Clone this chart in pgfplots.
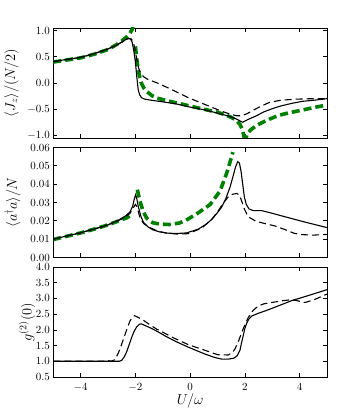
\documentclass[border=0pt]{standalone}
\usepackage{pgfplots}
\pgfplotsset{compat=1.18}
\usepgfplotslibrary{groupplots}
\definecolor{mplgreen}{rgb}{0,0.5,0}
\begin{document}
\begin{tikzpicture}
\begin{groupplot}[
  group style={group size=1 by 3, vertical sep=9.5pt, xticklabels at=edge bottom},
  width=273.7pt, height=110pt, scale only axis,
  xmin=-5, xmax=5,
  xtick={-4,-2,0,2,4},
  tick align=inside,
  major tick length=4pt,
  axis line style={line width=0.9pt},
  every tick/.style={black, line width=0.7pt},
  tick label style={font=\fontsize{10.5}{12}\selectfont},
  label style={font=\fontsize{14}{16}\selectfont},
  solid line/.style={black, line width=1.1pt},
  dash line/.style={black, line width=1.1pt, dash pattern=on 7pt off 4pt},
  green line/.style={mplgreen, line width=3.6pt, dash pattern=on 8pt off 4pt},
]
% ---- panel 1: <J_z>/(N/2)
\nextgroupplot[
  ymin=-1.05, ymax=1.05,
  ytick={-1,-0.5,0,0.5,1},
  yticklabel style={/pgf/number format/.cd, fixed, fixed zerofill, precision=1},
  ylabel={$\langle J_z\rangle/(N/2)$},
  ylabel style={at={(axis description cs:-0.153,0.5)}, anchor=center},
]
\addplot[green line] coordinates {
(-5,0.40) (-4.5,0.44) (-4,0.48) (-3.5,0.55) (-3,0.64) (-2.7,0.73) (-2.5,0.80)
(-2.3,0.89) (-2.2,0.95) (-2.12,1.02) (-2.08,1.10)};
\addplot[green line] coordinates {
(-2.0,0.70) (-1.95,0.45) (-1.88,0.20) (-1.8,0.02) (-1.7,-0.09) (-1.59,-0.16)
(-1.4,-0.24) (-1.2,-0.29) (-0.98,-0.32) (-0.5,-0.38) (0,-0.44) (0.5,-0.50)
(1.0,-0.56) (1.3,-0.61) (1.52,-0.66) (1.7,-0.72) (1.82,-0.79) (1.9,-0.88)
(1.96,-1.0) (2.0,-1.15)};
\addplot[green line] coordinates {
(2.02,-1.15) (2.07,-0.99) (2.2,-0.90) (2.4,-0.82) (2.61,-0.76) (2.9,-0.69)
(3.22,-0.62) (3.6,-0.57) (4.07,-0.52) (4.5,-0.47) (5,-0.42)};
\addplot[dash line] coordinates {
(-5,0.41) (-4.5,0.45) (-4,0.49) (-3.5,0.56) (-3,0.65) (-2.7,0.72) (-2.5,0.78)
(-2.35,0.83) (-2.25,0.85) (-2.15,0.84) (-2.08,0.78) (-2.02,0.66) (-1.95,0.45)
(-1.88,0.28) (-1.8,0.18) (-1.7,0.12) (-1.55,0.07) (-1.2,0.00) (-0.86,-0.08)
(-0.5,-0.17) (-0.07,-0.28) (0.54,-0.41) (1.15,-0.54) (1.5,-0.60) (1.7,-0.625)
(1.9,-0.625) (2.1,-0.58) (2.3,-0.52) (2.6,-0.44) (2.9,-0.37) (3.3,-0.33)
(3.8,-0.31) (4.4,-0.30) (5,-0.30)};
\addplot[solid line] coordinates {
(-5,0.41) (-4.5,0.45) (-4,0.49) (-3.5,0.56) (-3,0.65) (-2.7,0.72) (-2.5,0.78)
(-2.35,0.83) (-2.25,0.85) (-2.18,0.84) (-2.12,0.78) (-2.06,0.62) (-2.0,0.40)
(-1.95,0.12) (-1.9,-0.12) (-1.85,-0.22) (-1.78,-0.28) (-1.65,-0.31) (-1.4,-0.33)
(-1.0,-0.36) (-0.5,-0.40) (0,-0.46) (0.5,-0.51) (1.0,-0.575) (1.4,-0.63)
(1.7,-0.69) (1.92,-0.75) (2.1,-0.70) (2.4,-0.63) (2.7,-0.55) (3.0,-0.49)
(3.3,-0.44) (3.7,-0.39) (4.1,-0.35) (4.5,-0.33) (5,-0.30)};
% ---- panel 2: <a^dagger a>/N
\nextgroupplot[
  ymin=0, ymax=0.06,
  ytick={0,0.01,0.02,0.03,0.04,0.05,0.06},
  yticklabel style={/pgf/number format/.cd, fixed, fixed zerofill, precision=2},
  scaled y ticks=false,
  ylabel={$\langle a^\dagger a\rangle/N$},
  ylabel style={at={(axis description cs:-0.149,0.5)}, anchor=center},
]
\addplot[green line] coordinates {
(-5,0.0098) (-4.5,0.0116) (-4,0.0134) (-3.5,0.0155) (-3,0.0178) (-2.6,0.0200)
(-2.3,0.0218) (-2.12,0.0235)};
\addplot[green line] coordinates {
(-1.93,0.0370) (-1.9,0.0350) (-1.8,0.0290) (-1.71,0.0250) (-1.59,0.0215)
(-1.47,0.0198) (-1.35,0.0189) (-1.1,0.0182) (-0.75,0.0180) (-0.4,0.0188)
(-0.15,0.0203) (0.3,0.0244) (0.73,0.0289) (1.09,0.0362) (1.34,0.0462)
(1.52,0.0553) (1.56,0.0575)};
\addplot[dash line] coordinates {
(-5,0.0100) (-4,0.0135) (-3,0.0178) (-2.5,0.0210) (-2.2,0.0240) (-2.08,0.0270)
(-2.0,0.0290) (-1.95,0.0280) (-1.83,0.0215) (-1.7,0.0185) (-1.47,0.0163)
(-1.2,0.0145) (-0.86,0.0133) (-0.5,0.0128) (-0.07,0.0130) (0.42,0.0160)
(0.8,0.0210) (1.03,0.0255) (1.2,0.0295) (1.39,0.0330) (1.55,0.0345)
(1.7,0.0349) (1.8,0.0342) (1.9,0.0300) (1.98,0.0265) (2.12,0.0222)
(2.4,0.0198) (2.73,0.0185) (3.1,0.0172) (3.47,0.0152) (3.8,0.0132)
(4.07,0.0125) (4.5,0.0122) (5,0.0126)};
\addplot[solid line] coordinates {
(-5,0.0100) (-4.5,0.0118) (-4,0.0135) (-3.5,0.0155) (-3,0.0178) (-2.6,0.0205)
(-2.35,0.0228) (-2.2,0.0248) (-2.1,0.0280) (-2.04,0.0320) (-1.99,0.0343)
(-1.95,0.0320) (-1.89,0.0275) (-1.8,0.0225) (-1.71,0.0193) (-1.55,0.0168)
(-1.35,0.0150) (-1.1,0.0139) (-0.86,0.0133) (-0.5,0.0131) (-0.13,0.0134)
(0.3,0.0155) (0.6,0.0183) (0.79,0.0208) (1.0,0.0245) (1.15,0.0275)
(1.3,0.0320) (1.46,0.0385) (1.58,0.0450) (1.66,0.0495) (1.74,0.0523)
(1.8,0.0515) (1.86,0.0470) (1.92,0.0400) (1.98,0.0330) (2.05,0.0290)
(2.15,0.0265) (2.3,0.0256) (2.6,0.0256) (2.9,0.0245) (3.47,0.0222)
(4.2,0.0193) (5,0.0163)};
% ---- panel 3: g2(0)
\nextgroupplot[
  ymin=0.5, ymax=4.0,
  ytick={0.5,1,1.5,2,2.5,3,3.5,4},
  yticklabel style={/pgf/number format/.cd, fixed, fixed zerofill, precision=1},
  ylabel={$g^{(2)}(0)$},
  ylabel style={at={(axis description cs:-0.096,0.5)}, anchor=center},
  xlabel={$U/\omega$},
  xlabel style={at={(axis description cs:0.5,-0.215)}, anchor=center},
  xticklabel style={yshift=-3pt},
]
\addplot[dash line] coordinates {
(-5,1.0) (-3.2,1.0) (-3.0,1.03) (-2.9,1.0) (-2.75,1.05) (-2.62,1.27) (-2.5,1.55)
(-2.4,1.80) (-2.32,2.0) (-2.2,2.28) (-2.1,2.42) (-2.03,2.45) (-1.95,2.42)
(-1.77,2.34) (-1.5,2.18) (-1.22,2.02) (-0.9,1.88) (-0.62,1.75) (-0.07,1.53)
(0.54,1.35) (1.0,1.21) (1.39,1.20) (1.55,1.28) (1.64,1.40) (1.75,1.60)
(1.88,1.91) (2.0,2.16) (2.12,2.39) (2.3,2.62) (2.49,2.76) (2.7,2.83)
(2.98,2.87) (3.4,2.93) (3.71,2.96) (3.9,2.93) (4.2,2.87) (4.5,2.95)
(4.8,3.06) (5,3.14)};
\addplot[solid line] coordinates {
(-5,1.0) (-3,1.0) (-2.6,1.0) (-2.5,1.03) (-2.4,1.15) (-2.32,1.30) (-2.22,1.55)
(-2.14,1.75) (-2.05,1.95) (-1.95,2.10) (-1.85,2.18) (-1.78,2.19) (-1.65,2.14)
(-1.47,2.07) (-1.2,1.95) (-0.86,1.78) (-0.5,1.62) (-0.07,1.45) (0.54,1.23)
(0.9,1.12) (1.15,1.07) (1.4,1.07) (1.6,1.10) (1.72,1.18) (1.82,1.35)
(1.88,1.60) (1.94,1.82) (2.0,2.05) (2.07,2.22) (2.15,2.35) (2.25,2.44)
(2.5,2.53) (2.86,2.64) (3.3,2.79) (3.71,2.93) (4.2,3.06) (4.68,3.19) (5,3.28)};
\end{groupplot}
\pgfresetboundingbox
\path[use as bounding box] ([xshift=-53.3pt,yshift=28pt]group c1r1.north west)
  rectangle ([xshift=11pt,yshift=-37pt]group c1r3.south east);
\end{tikzpicture}
\end{document}
